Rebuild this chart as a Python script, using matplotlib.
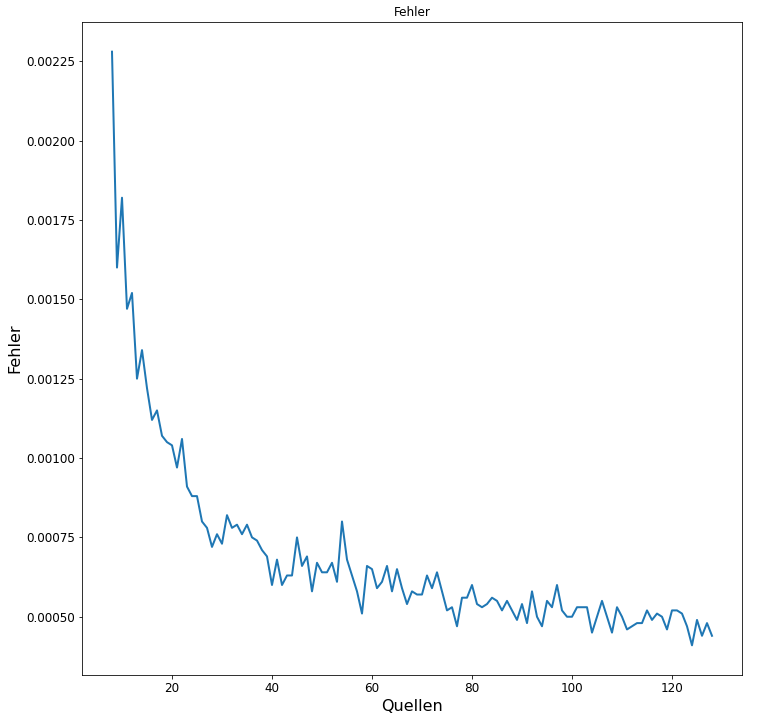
import numpy as np
import matplotlib
matplotlib.use("Agg")
import matplotlib.pyplot as plt

# Anzahl der Quellen (x) und gemessener Fehler (y)
quellen = np.arange(8, 129)
fehler = [
    0.00228, 0.00160, 0.00182, 0.00147, 0.00152, 0.00125, 0.00134, 0.00122,
    0.00112, 0.00115, 0.00107, 0.00105, 0.00104, 0.00097, 0.00106, 0.00091,
    0.00088, 0.00088, 0.00080, 0.00078, 0.00072, 0.00076, 0.00073, 0.00082,
    0.00078, 0.00079, 0.00076, 0.00079, 0.00075, 0.00074, 0.00071, 0.00069,
    0.00060, 0.00068, 0.00060, 0.00063, 0.00063, 0.00075, 0.00066, 0.00069,
    0.00058, 0.00067, 0.00064, 0.00064, 0.00067, 0.00061, 0.00080, 0.00068,
    0.00063, 0.00058, 0.00051, 0.00066, 0.00065, 0.00059, 0.00061, 0.00066,
    0.00058, 0.00065, 0.00059, 0.00054, 0.00058, 0.00057, 0.00057, 0.00063,
    0.00059, 0.00064, 0.00058, 0.00052, 0.00053, 0.00047, 0.00056, 0.00056,
    0.00060, 0.00054, 0.00053, 0.00054, 0.00056, 0.00055, 0.00052, 0.00055,
    0.00052, 0.00049, 0.00054, 0.00048, 0.00058, 0.00050, 0.00047, 0.00055,
    0.00053, 0.00060, 0.00052, 0.00050, 0.00050, 0.00053, 0.00053, 0.00053,
    0.00045, 0.00050, 0.00055, 0.00050, 0.00045, 0.00053, 0.00050, 0.00046,
    0.00047, 0.00048, 0.00048, 0.00052, 0.00049, 0.00051, 0.00050, 0.00046,
    0.00052, 0.00052, 0.00051, 0.00047, 0.00041, 0.00049, 0.00044, 0.00048,
    0.00044,
]

fig = plt.figure(figsize=(759 / 72, 721 / 72), dpi=72)
fig.subplots_adjust(left=82 / 759, right=742 / 759, top=1 - 22 / 721, bottom=1 - 675 / 721)
ax = fig.add_subplot(111)
ax.plot(quellen, fehler, color='#1f77b4', linewidth=2)
ax.set_title('Fehler', fontsize=12)
ax.set_xlabel('Quellen', fontsize=16)
ax.set_ylabel('Fehler', fontsize=16)
ax.tick_params(labelsize=12)
ax.set_xticks([20, 40, 60, 80, 100, 120])
ax.set_yticks([0.0005, 0.00075, 0.001, 0.00125, 0.0015, 0.00175, 0.002, 0.00225])
ax.yaxis.set_major_formatter(matplotlib.ticker.FormatStrFormatter('%.5f'))

plt.savefig('out.png', dpi=72)
